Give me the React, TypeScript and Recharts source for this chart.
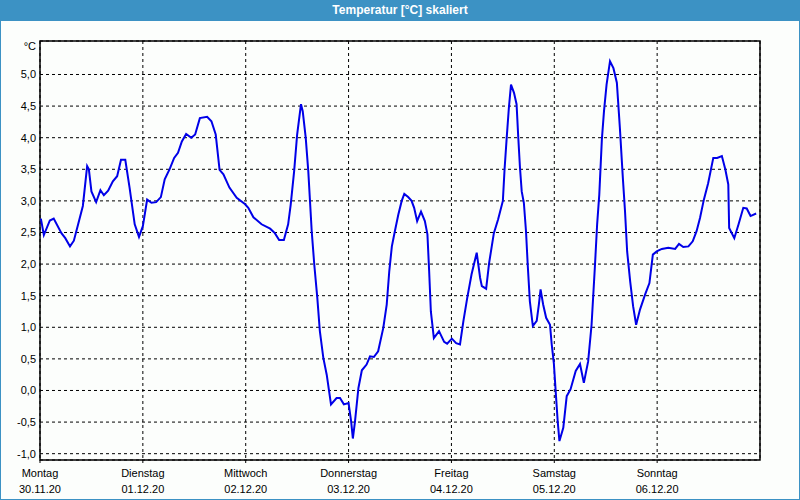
import { CartesianGrid, Line, LineChart, ReferenceArea, XAxis, YAxis } from 'recharts';

// hours since Monday 30.11.20 00:00
const hours = [
  0.2, 0.9, 2.3, 3.2, 5.0, 5.9, 7.0, 7.9, 8.9, 10.0, 11.0, 11.4, 12.0, 13.1, 14.1, 14.9, 15.9, 17.0, 18.0, 18.9,
  19.9, 20.9, 22.1, 23.1, 24.0, 25.0, 26.0, 27.1, 28.2, 29.1, 30.3, 31.3, 32.2, 33.1, 34.1, 35.3, 36.2, 37.3, 39.0,
  40.0, 41.0, 41.9, 42.8, 44.2, 45.9, 47.8, 48.6, 49.8, 51.7, 53.7, 54.8, 55.8, 56.9, 57.9, 58.5, 59.3, 60.0, 60.9,
  61.3, 62.0, 62.6, 63.4, 64.0, 64.7, 65.3, 66.1, 66.9, 67.9, 69.2, 70.0, 70.9, 72.0, 72.6, 73.0, 73.5, 74.3, 75.1,
  76.2, 77.0, 77.9, 78.9, 80.1, 80.9, 81.5, 82.1, 82.8, 83.6, 84.4, 85.0, 85.9, 86.7, 87.3, 88.0, 88.9, 89.8, 90.4,
  90.8, 91.2, 91.9, 93.1, 94.3, 95.0, 96.1, 97.1, 98.0, 98.8, 99.7, 100.7, 101.9, 102.7, 103.1, 104.1, 104.8, 105.9,
  106.9, 108.0, 108.4, 108.9, 109.4, 109.9, 110.6, 111.2, 111.6, 112.0, 112.4, 112.9, 113.4, 113.8, 114.3, 115.0,
  115.9, 116.4, 116.8, 117.4, 118.1, 119.0, 119.4, 119.9, 120.4, 120.8, 121.2, 122.1, 122.9, 123.8, 125.0, 126.0,
  126.9, 127.9, 128.7, 129.5, 130.0, 130.5, 131.1, 131.6, 132.2, 133.0, 133.8, 134.6, 135.3, 136.0, 136.5, 137.0,
  137.7, 138.4, 139.1, 140.0, 141.2, 142.2, 143.0, 143.9, 145.1, 146.6, 148.2, 149.1, 150.1, 151.3, 152.3, 153.2,
  154.0, 154.9, 155.9, 157.1, 158.0, 159.1, 159.9, 160.6, 160.8, 162.0, 163.0, 164.1, 164.9, 165.8, 167.1,
];

const temps = [
  2.72, 2.46, 2.69, 2.72, 2.49, 2.41, 2.28, 2.37, 2.63, 2.92, 3.55, 3.5, 3.15, 2.98, 3.17, 3.09, 3.16, 3.31, 3.39, 3.65,
  3.65, 3.21, 2.63, 2.43, 2.6, 3.02, 2.97, 2.98, 3.06, 3.34, 3.51, 3.68, 3.76, 3.94, 4.06, 4.0, 4.05, 4.31, 4.33,
  4.26, 4.05, 3.49, 3.42, 3.21, 3.05, 2.95, 2.89, 2.74, 2.63, 2.56, 2.49, 2.38, 2.38, 2.63, 2.94, 3.47, 4.05, 4.53,
  4.42, 4.0, 3.47, 2.52, 1.99, 1.47, 0.94, 0.52, 0.25, -0.22, -0.12, -0.12, -0.22, -0.2, -0.49, -0.76, -0.49, 0.04, 0.32,
  0.41, 0.54, 0.53, 0.62, 0.99, 1.36, 1.89, 2.28, 2.52, 2.78, 3.0, 3.11, 3.06, 3.0, 2.89, 2.68, 2.83, 2.68, 2.47,
  1.89, 1.25, 0.83, 0.94, 0.77, 0.74, 0.82, 0.75, 0.73, 1.1, 1.47, 1.84, 2.18, 1.78, 1.65, 1.61, 2.02, 2.49,
  2.71, 3.0, 3.5, 4.0, 4.47, 4.84, 4.71, 4.53, 4.0, 3.52, 3.15, 2.97, 2.52, 1.99, 1.41, 1.02,
  1.1, 1.36, 1.6, 1.36, 1.15, 1.04, 0.73, 0.43, -0.09, -0.49, -0.8, -0.59, -0.09, 0.02, 0.31, 0.42,
  0.12, 0.46, 1.04, 1.99, 2.63, 3.1, 3.97, 4.42, 4.84, 5.21, 5.1, 4.87, 4.16, 3.36, 2.84, 2.2,
  1.73, 1.33, 1.04, 1.28, 1.52, 1.7, 2.15, 2.2, 2.24, 2.26, 2.24, 2.32, 2.27, 2.28, 2.36, 2.52,
  2.73, 3.02, 3.28, 3.68, 3.68, 3.71, 3.5, 3.26, 2.57, 2.41, 2.63, 2.89, 2.88, 2.76, 2.8,
];

const dayTicks = [0, 24, 48, 72, 96, 120, 144];
const dayNames = ['Montag', 'Dienstag', 'Mittwoch', 'Donnerstag', 'Freitag', 'Samstag', 'Sonntag'];
const dayDates = ['30.11.20', '01.12.20', '02.12.20', '03.12.20', '04.12.20', '05.12.20', '06.12.20'];
const tempTicks = [-1, -0.5, 0, 0.5, 1, 1.5, 2, 2.5, 3, 3.5, 4, 4.5, 5];

const data = hours.map((h, i) => ({ h, t: temps[i] }));

const FONT = '"Liberation Sans", Arial, sans-serif';

function DayTick({ x, y, payload }: any) {
  const i = dayTicks.indexOf(payload.value);
  return (
    <text x={x} y={y} textAnchor="middle" fontSize={11} fill="#000" fontFamily={FONT}>
      <tspan x={x} dy={12}>{dayNames[i]}</tspan>
      <tspan x={x} dy={16}>{dayDates[i]}</tspan>
    </text>
  );
}

function UnitLabel(props: any) {
  const vb = props.viewBox;
  if (!vb) return null;
  return (
    <text x={vb.x + vb.width - 4} y={vb.y + 9} textAnchor="end" fontSize={11} fill="#000" fontFamily={FONT}>
      °C
    </text>
  );
}

export default function App() {
  return (
    <div style={{ position: 'absolute', left: 0, top: 0, width: 800, height: 500, background: '#fcfefc', fontFamily: FONT }}>
      <div
        style={{
          position: 'absolute', left: 0, top: 0, width: 800, height: 21, background: '#3c92c4',
          color: '#fff', fontWeight: 'bold', fontSize: 12, lineHeight: '21px', textAlign: 'center',
        }}
      >
        Temperatur [°C] skaliert
      </div>
      <div style={{ position: 'absolute', left: 0, top: 0, width: 800, height: 500, boxSizing: 'border-box', border: '1px solid #3c92c4' }} />
      <div style={{ position: 'absolute', left: 0, top: 0 }}>
        <LineChart width={800} height={500} data={data} margin={{ top: 41, right: 40, bottom: 0, left: 0 }}>
          <CartesianGrid stroke="#000" strokeDasharray="3 3" strokeWidth={1} />
          <XAxis
            type="number"
            dataKey="h"
            domain={[0, 168]}
            ticks={dayTicks}
            axisLine={false}
            tickLine={{ stroke: '#000' }}
            tickSize={3}
            tickMargin={2}
            height={40}
            tick={<DayTick />}
            interval={0}
          />
          <YAxis
            type="number"
            domain={[-1.1, 5.53]}
            ticks={tempTicks}
            interval={0}
            axisLine={false}
            tickLine={false}
            tickSize={2}
            tickMargin={2}
            width={40}
            tick={{ fontSize: 11, fill: '#000', fontFamily: FONT }}
            tickFormatter={(v: number) => v.toFixed(1).replace('.', ',')}
            label={<UnitLabel />}
          />
          <ReferenceArea x1={0} x2={168} y1={-1.1} y2={5.53} fill="none" stroke="#000" strokeWidth={1.5} />
          <Line
            type="linear"
            dataKey="t"
            stroke="#0000e8"
            strokeWidth={2}
            dot={false}
            isAnimationActive={false}
          />
        </LineChart>
      </div>
    </div>
  );
}
